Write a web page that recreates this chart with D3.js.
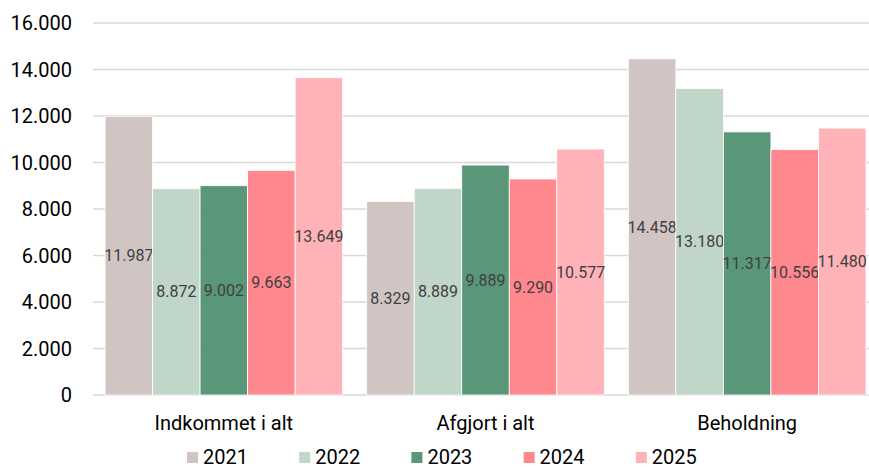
<!DOCTYPE html>
<html>
<head>
<meta charset="utf-8">
<script src="https://cdn.jsdelivr.net/npm/d3@7"></script>
<style>
  body { margin: 0; background: #fff; }
  svg { display: block; font-family: Roboto, "Open Sans", sans-serif; }
</style>
</head>
<body>
<script>
var categories = ['Indkommet i alt', 'Afgjort i alt', 'Beholdning']
var years = ['2021', '2022', '2023', '2024', '2025']
var values2021 = [11987, 8329, 14458]
var values2022 = [8872, 8889, 13180]
var values2023 = [9002, 9889, 11317]
var values2024 = [9663, 9290, 10556]
var values2025 = [13649, 10577, 11480]
var yTicks = [0, 2000, 4000, 6000, 8000, 10000, 12000, 14000, 16000]
var colors = ['#d1c5c4', '#bfd6c9', '#5a9678', '#ff878e', '#ffb3b9']

var series = [values2021, values2022, values2023, values2024, values2025]

var width = 869
var height = 468
var margin = { left: 93, right: -9, top: 23, bottom: 73 }

var svg = d3.select('body').append('svg')
  .attr('width', width)
  .attr('height', height)

var x0 = d3.scaleBand()
  .domain(categories)
  .range([margin.left, width - margin.right])
  .paddingInner(0.092)
  .paddingOuter(0.046)

var x1 = d3.scaleBand()
  .domain(years)
  .range([0, x0.bandwidth()])

var y = d3.scaleLinear()
  .domain([0, 16000])
  .range([height - margin.bottom, margin.top])

var fmt = function (v) { return d3.format(',')(v).replace(/,/g, '.') }

// gridlines + y labels
var yAxis = svg.append('g')
yAxis.selectAll('line')
  .data(yTicks)
  .enter().append('line')
  .attr('x1', margin.left)
  .attr('x2', width)
  .attr('y1', function (d) { return y(d) })
  .attr('y2', function (d) { return y(d) })
  .attr('stroke', '#d9d9d9')
  .attr('stroke-width', 1.5)

yAxis.selectAll('text')
  .data(yTicks)
  .enter().append('text')
  .attr('x', 72)
  .attr('y', function (d) { return y(d) })
  .attr('dy', '0.35em')
  .attr('text-anchor', 'end')
  .attr('font-size', 20)
  .attr('fill', '#000')
  .text(fmt)

// bars
var groups = svg.selectAll('g.series')
  .data(series)
  .enter().append('g')
  .attr('class', 'series')

groups.each(function (vals, si) {
  var g = d3.select(this)
  g.selectAll('rect')
    .data(vals)
    .enter().append('rect')
    .attr('x', function (d, i) { return x0(categories[i]) + x1(years[si]) })
    .attr('y', function (d) { return y(d) })
    .attr('width', x1.bandwidth())
    .attr('height', function (d) { return y(0) - y(d) })
    .attr('fill', colors[si])
    .attr('stroke', '#fff')
    .attr('stroke-width', 0.8)
})

groups.each(function (vals, si) {
  d3.select(this).selectAll('text')
    .data(vals)
    .enter().append('text')
    .attr('x', function (d, i) { return x0(categories[i]) + x1(years[si]) + x1.bandwidth() / 2 })
    .attr('y', function (d) { return y(d / 2) })
    .attr('dy', '0.35em')
    .attr('text-anchor', 'middle')
    .attr('font-size', 16)
    .attr('fill', '#404040')
    .text(fmt)
})

// category labels
svg.append('g').selectAll('text')
  .data(categories)
  .enter().append('text')
  .attr('x', function (d) { return x0(d) + x0.bandwidth() / 2 })
  .attr('y', 430)
  .attr('text-anchor', 'middle')
  .attr('font-size', 20)
  .attr('fill', '#000')
  .text(function (d) { return d })

// legend
var legend = svg.append('g').selectAll('g')
  .data(years)
  .enter().append('g')
  .attr('transform', function (d, i) { return 'translate(' + (187 + i * 112.2) + ',452)' })

legend.append('rect')
  .attr('width', 11)
  .attr('height', 11)
  .attr('fill', function (d, i) { return colors[i] })

legend.append('text')
  .attr('x', 16)
  .attr('y', 5)
  .attr('dy', '0.35em')
  .attr('font-size', 20)
  .attr('fill', '#000')
  .text(function (d) { return d })
</script>
</body>
</html>
